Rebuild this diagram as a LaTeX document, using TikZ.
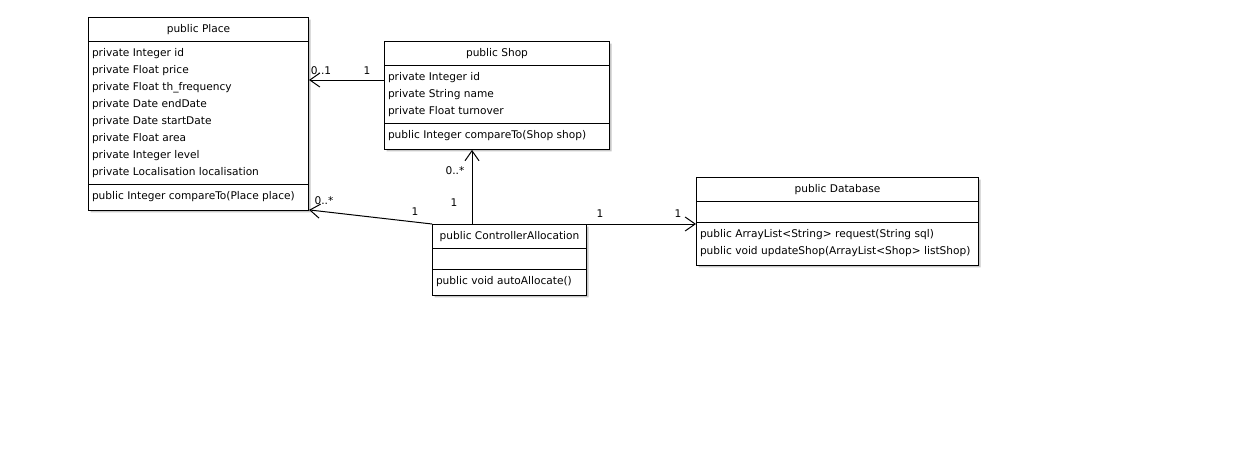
\documentclass[tikz,border=0pt]{standalone}
\usepackage{fontspec}
\setmainfont{DejaVu Sans}
\usetikzlibrary{positioning,%
  shapes.multipart,%
  shadows,%
  arrows.meta,%
  calc
}
% Abstand unter der letzten Zeile
\newcommand{\fuss}{\rule[-7pt]{0pt}{7pt}}

\begin{document}
\begin{tikzpicture}
                    [
                        x=1pt, y=-1pt,
                        every node/.style={font=\fontsize{10.6}{17}\selectfont},
                        klasse/.style={rectangle split, rectangle split parts=3,
                            rectangle split part align={center,left,left},
                            draw, line width=1pt, fill=white, align=left,
                            inner xsep=3.5pt, inner ysep=3pt, anchor=north west,
                            drop shadow={shadow xshift=2pt, shadow yshift=-2pt, fill=black!22, opacity=1}},
                        mult/.style={inner sep=1pt},
                        assoc/.style={line width=1pt, -{Straight Barb[length=10pt,width=14pt]}}
                    ]

                    % Rahmen
                    \useasboundingbox (0,0) rectangle (1236,463);

                    % Klassen
                    \node[klasse, minimum width=220pt] (place) at (88,17) {\strut public Place
                        \nodepart{second}\strut private Integer id\\
                        \strut private Float price\\
                        \strut private Float th\_frequency\\
                        \strut private Date endDate\\
                        \strut private Date startDate\\
                        \strut private Float area\\
                        \strut private Integer level\\
                        \strut private Localisation localisation
                        \nodepart{third}\strut public Integer compareTo(Place place)\fuss};

                    \node[klasse, minimum width=225pt] (shop) at (384,41) {\strut public Shop
                        \nodepart{second}\strut private Integer id\\
                        \strut private String name\\
                        \strut private Float turnover
                        \nodepart{third}\strut public Integer compareTo(Shop shop)\fuss};

                    \node[klasse, minimum width=154pt] (ctrl) at (432,224) {\strut public ControllerAllocation
                        \nodepart{second}\rule{0pt}{14pt}
                        \nodepart{third}\strut public void autoAllocate()\fuss};

                    \node[klasse, minimum width=282pt] (db) at (696,177) {\strut public Database
                        \nodepart{second}\rule{0pt}{14pt}
                        \nodepart{third}\strut public ArrayList<String> request(String sql)\\
                        \strut public void updateShop(ArrayList<Shop> listShop)\fuss};

                    % Verbindungen
                    \coordinate (shopout) at ([yshift=-39pt]shop.north west);
                    \coordinate (ctrlup) at ([xshift=40pt]ctrl.north west);
                    \draw[assoc] (shopout) -- (shopout -| place.east);
                    \draw[assoc] (ctrl.north west) -- ([yshift=1pt]place.south east);
                    \draw[assoc] (ctrlup) -- (ctrlup |- shop.south);
                    \draw[assoc] (ctrl.north east) -- (ctrl.north east -| db.west);

                    % Multiplizitaeten
                    \node[mult] at (321,71) {0..1};
                    \node[mult] at (367,71) {1};
                    \node[mult] at (324,201) {0..*};
                    \node[mult] at (415,212) {1};
                    \node[mult] at (455,171) {0..*};
                    \node[mult] at (454,203) {1};
                    \node[mult] at (600,214) {1};
                    \node[mult] at (678,214) {1};
                \end{tikzpicture}
\end{document}
